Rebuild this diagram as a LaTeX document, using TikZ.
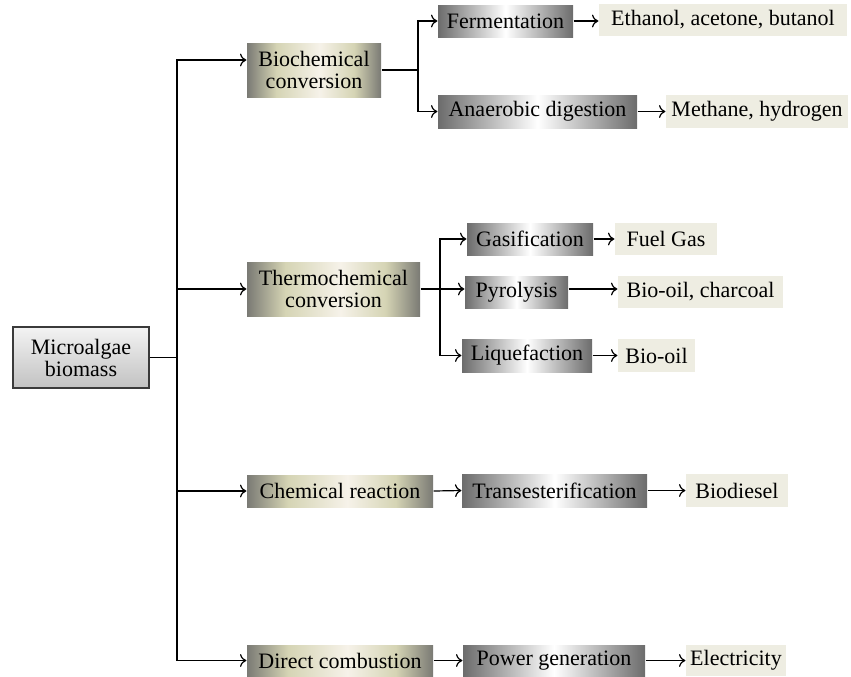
\documentclass[tikz,border=0pt]{standalone}
\usepackage{fontspec}
\setmainfont{Liberation Serif}
\usetikzlibrary{arrows.meta}

\definecolor{rootline}{HTML}{3A3A3A}
\definecolor{roottop}{HTML}{F3F3F3}
\definecolor{rootbottom}{HTML}{C2C2C2}
\definecolor{convgray}{HTML}{7A7A74}
\definecolor{convolive}{HTML}{D5D4B4}
\definecolor{convcream}{HTML}{F6F2E9}
\definecolor{methgray}{HTML}{6C6C6C}
\definecolor{prodfill}{HTML}{EEEDE2}

% gray -> olive -> cream -> olive -> gray, left to right
\pgfdeclarehorizontalshading{convshade}{100bp}{color(0bp)=(convgray); color(25bp)=(convgray); color(36bp)=(convolive); color(52bp)=(convcream); color(65bp)=(convolive); color(75bp)=(convgray); color(100bp)=(convgray)}

\begin{document}
\begin{tikzpicture}[x=0.5pt, y=-0.5pt, >={To[length=3.2pt,width=6.4pt]}, line width=0.6pt,
    font=\fontsize{11}{11}\selectfont,
    basebox/.style={inner sep=0pt, align=center, text=black},
    rootbox/.style={basebox, draw=rootline, line width=0.6pt, top color=roottop, bottom color=rootbottom},
    convbox/.style={basebox, shading=convshade},
    methbox/.style={basebox, left color=methgray, right color=methgray, middle color=white},
    prodbox/.style={basebox, fill=prodfill}]

    \useasboundingbox (0,0) rectangle (851,676);

    % --- 1. Source ---
    \node[rootbox, minimum width=68pt, minimum height=30.5pt] (root) at (81,357.5) {Microalgae\\biomass};

    % --- 2. Conversion routes ---
    \node[convbox, minimum width=67pt, minimum height=27pt] (bio) at (314,70) {Biochemical\\conversion};
    \node[convbox, minimum width=86.5pt, minimum height=27pt] (thermo) at (333.5,289) {Thermochemical\\conversion};
    \node[convbox, minimum width=93pt, minimum height=16pt] (chem) at (340,491) {Chemical reaction};
    \node[convbox, minimum width=93pt, minimum height=15.5pt] (direct) at (340,660.5) {Direct combustion};

    % --- 3. Processes ---
    \node[methbox, minimum width=67.5pt, minimum height=16pt] (ferm) at (505.5,21) {Fermentation};
    \node[methbox, minimum width=99.5pt, minimum height=16.5pt] (anaer) at (537.5,111.5) {Anaerobic digestion};
    \node[methbox, minimum width=63pt, minimum height=16pt] (gas) at (530,239) {Gasification};
    \node[methbox, minimum width=51.5pt, minimum height=16pt] (pyro) at (516.5,292) {Pyrolysis};
    \node[methbox, minimum width=65pt, minimum height=16.5pt] (lique) at (527,355.5) {Liquefaction};
    \node[methbox, minimum width=92.5pt, minimum height=16.5pt] (trans) at (554.5,490.5) {Transesterification};
    \node[methbox, minimum width=91pt, minimum height=15.5pt] (power) at (554,660.5) {Power generation};

    % --- 4. Products ---
    \node[prodbox, minimum width=124pt, minimum height=16pt] (eth) at (723,20) {Ethanol, acetone, butanol};
    \node[prodbox, minimum width=91pt, minimum height=16.5pt] (meth) at (757,111.5) {Methane, hydrogen};
    \node[prodbox, minimum width=51pt, minimum height=16pt] (fuel) at (666,239) {Fuel Gas};
    \node[prodbox, minimum width=82.5pt, minimum height=16pt] (biooilc) at (700.5,292) {Bio-oil, charcoal};
    \node[prodbox, minimum width=38.5pt, minimum height=16.5pt] (biooil) at (656.5,355.5) {Bio-oil};
    \node[prodbox, minimum width=51pt, minimum height=16.5pt] (biodiesel) at (737,490.5) {Biodiesel};
    \node[prodbox, minimum width=50pt, minimum height=15.5pt] (elec) at (736,660.5) {Electricity};

    % --- 5. Connectors ---
    \coordinate (trunk) at (177,357.5);
    \coordinate (biojoin) at (418,70);
    \coordinate (thermojoin) at (440,289);

    \draw (root.east) -- (trunk);
    \draw[->] (trunk) |- ([yshift=5pt]bio.west);
    \draw[->] (trunk) |- (thermo.west);
    \draw[->] (trunk) |- (chem.west);
    \draw[->] (trunk) |- (direct.west);

    \draw (bio.east) -- (biojoin);
    \draw[->] (biojoin) |- (ferm.west);
    \draw[->] (biojoin) |- (anaer.west);

    \draw (thermo.east) -- (thermojoin);
    \draw[->] (thermojoin) |- (gas.west);
    \draw[->] (thermojoin) -- (thermojoin -| pyro.west);
    \draw[->] (thermojoin) |- (lique.west);

    \draw[->] (chem.east) -- (trans.west);
    \draw[->] (direct.east) -- (power.west);

    \draw[->] (ferm.east) -- (eth.west |- ferm.east);
    \draw[->] (anaer.east) -- (meth.west);
    \draw[->] (gas.east) -- (fuel.west);
    \draw[->] (pyro.east |- thermojoin) -- (biooilc.west |- thermojoin);
    \draw[->] (lique.east) -- (biooil.west);
    \draw[->] (trans.east) -- (biodiesel.west);
    \draw[->] (power.east) -- (elec.west);

\end{tikzpicture}
\end{document}
